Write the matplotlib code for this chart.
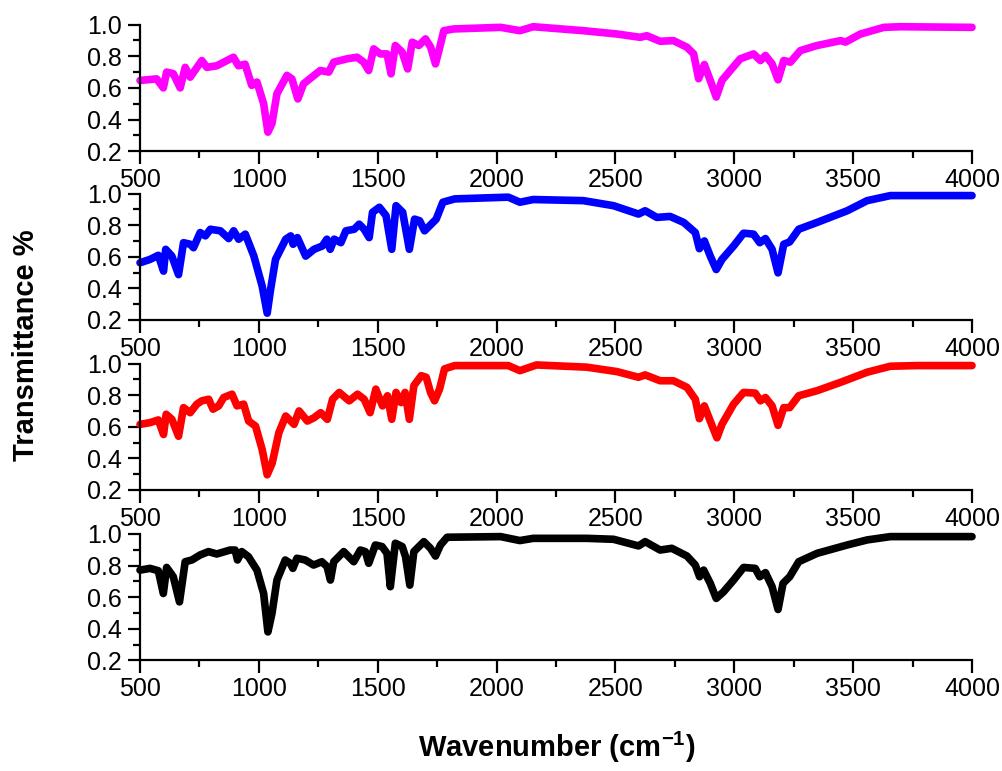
import matplotlib
matplotlib.use("Agg")
import matplotlib.pyplot as plt
from matplotlib.ticker import MultipleLocator

# Spectres FTIR (nombre d'onde en cm-1, transmittance)
wn_magenta = [500, 570, 598, 612, 640, 669, 690, 711, 760, 781, 823, 893, 914, 942, 970, 992,
              1020, 1038, 1055, 1076, 1118, 1139, 1164, 1188, 1223, 1258, 1294, 1315, 1371,
              1413, 1441, 1462, 1483, 1511, 1539, 1556, 1574, 1603, 1626, 1645, 1673, 1701,
              1723, 1743, 1761, 1778, 1820, 2017, 2098, 2154, 2365, 2506, 2604, 2632, 2688,
              2744, 2801, 2829, 2850, 2874, 2899, 2924, 2948, 2983, 3025, 3081, 3110, 3131,
              3159, 3184, 3208, 3236, 3278, 3348, 3447, 3468, 3531, 3629, 3699, 4000]
t_magenta = [0.647, 0.657, 0.60, 0.70, 0.69, 0.60, 0.73, 0.668, 0.773, 0.73, 0.74, 0.794, 0.74,
             0.75, 0.616, 0.637, 0.50, 0.32, 0.374, 0.563, 0.679, 0.657, 0.53, 0.626, 0.668,
             0.71, 0.70, 0.763, 0.784, 0.794, 0.763, 0.71, 0.847, 0.815, 0.815, 0.689, 0.868,
             0.826, 0.72, 0.889, 0.868, 0.91, 0.857, 0.752, 0.857, 0.962, 0.973, 0.983, 0.962,
             0.987, 0.962, 0.941, 0.92, 0.93, 0.895, 0.899, 0.857, 0.815, 0.658, 0.748, 0.647,
             0.542, 0.647, 0.71, 0.784, 0.815, 0.773, 0.805, 0.752, 0.651, 0.773, 0.763, 0.836,
             0.868, 0.899, 0.89, 0.941, 0.983, 0.987, 0.983]

wn_blue = [500, 542, 577, 599, 608, 634, 662, 683, 711, 725, 753, 775, 796, 838, 873, 894, 915,
           943, 979, 1014, 1035, 1049, 1070, 1113, 1134, 1144, 1162, 1197, 1232, 1267, 1286,
           1300, 1317, 1345, 1366, 1401, 1422, 1443, 1464, 1478, 1507, 1535, 1559, 1577, 1605,
           1633, 1655, 1676, 1697, 1725, 1746, 1774, 1824, 2049, 2098, 2154, 2365, 2492, 2597,
           2625, 2674, 2730, 2787, 2836, 2853, 2874, 2899, 2924, 2948, 2997, 3039, 3081, 3107,
           3131, 3159, 3184, 3208, 3233, 3271, 3348, 3475, 3559, 3657, 3770, 4000]
t_blue = [0.562, 0.583, 0.609, 0.509, 0.647, 0.604, 0.487, 0.689, 0.679, 0.657, 0.753, 0.732,
          0.774, 0.764, 0.715, 0.764, 0.711, 0.743, 0.604, 0.413, 0.243, 0.391, 0.583, 0.711,
          0.732, 0.679, 0.721, 0.604, 0.647, 0.668, 0.711, 0.647, 0.711, 0.689, 0.764, 0.774,
          0.806, 0.774, 0.721, 0.881, 0.913, 0.86, 0.647, 0.923, 0.881, 0.647, 0.838, 0.828,
          0.764, 0.806, 0.838, 0.945, 0.966, 0.977, 0.945, 0.962, 0.955, 0.923, 0.870, 0.891,
          0.849, 0.855, 0.817, 0.753, 0.651, 0.70, 0.604, 0.519, 0.583, 0.668, 0.749, 0.743,
          0.689, 0.715, 0.647, 0.498, 0.679, 0.694, 0.774, 0.817, 0.891, 0.955, 0.987, 0.987,
          0.987]

wn_red = [500, 542, 577, 599, 610, 634, 662, 683, 711, 739, 760, 789, 807, 831, 852, 887, 908,
          936, 957, 986, 1014, 1035, 1056, 1084, 1113, 1148, 1169, 1204, 1232, 1260, 1288, 1310,
          1338, 1380, 1415, 1443, 1468, 1492, 1520, 1541, 1559, 1577, 1598, 1615, 1633, 1652,
          1683, 1704, 1722, 1739, 1760, 1781, 1824, 2049, 2098, 2168, 2379, 2506, 2597, 2625,
          2688, 2744, 2801, 2836, 2853, 2874, 2899, 2927, 2948, 2997, 3039, 3088, 3110, 3131,
          3159, 3184, 3208, 3233, 3271, 3348, 3447, 3559, 3657, 3770, 4000]
t_red = [0.615, 0.626, 0.643, 0.551, 0.679, 0.647, 0.540, 0.721, 0.689, 0.743, 0.764, 0.774,
         0.711, 0.732, 0.785, 0.806, 0.732, 0.743, 0.636, 0.604, 0.455, 0.296, 0.370, 0.562,
         0.668, 0.615, 0.70, 0.636, 0.657, 0.689, 0.647, 0.774, 0.817, 0.764, 0.806, 0.774,
         0.689, 0.838, 0.732, 0.796, 0.647, 0.817, 0.753, 0.817, 0.647, 0.860, 0.923, 0.913,
         0.817, 0.764, 0.838, 0.966, 0.987, 0.987, 0.955, 0.991, 0.977, 0.949, 0.913, 0.928,
         0.891, 0.891, 0.849, 0.774, 0.651, 0.732, 0.636, 0.530, 0.615, 0.743, 0.817, 0.813,
         0.764, 0.785, 0.732, 0.609, 0.721, 0.721, 0.796, 0.828, 0.881, 0.945, 0.983, 0.987,
         0.987]

wn_black = [500, 542, 577, 598, 612, 640, 666, 690, 718, 753, 788, 823, 879, 900, 910, 928, 956,
            992, 1020, 1038, 1055, 1076, 1111, 1132, 1143, 1160, 1195, 1230, 1265, 1287, 1301,
            1315, 1357, 1399, 1427, 1448, 1462, 1490, 1518, 1539, 1553, 1574, 1603, 1617, 1635,
            1652, 1694, 1722, 1743, 1764, 1792, 2017, 2098, 2154, 2379, 2492, 2597, 2625, 2688,
            2737, 2801, 2836, 2854, 2871, 2899, 2924, 2955, 2997, 3039, 3088, 3107, 3131, 3159,
            3184, 3205, 3233, 3271, 3348, 3475, 3559, 3657, 3770, 4000]
t_black = [0.771, 0.782, 0.767, 0.623, 0.788, 0.729, 0.570, 0.824, 0.835, 0.867, 0.888, 0.873,
           0.898, 0.898, 0.835, 0.888, 0.856, 0.771, 0.623, 0.380, 0.496, 0.708, 0.835, 0.814,
           0.782, 0.846, 0.835, 0.803, 0.824, 0.793, 0.708, 0.824, 0.888, 0.824, 0.898, 0.888,
           0.814, 0.930, 0.920, 0.877, 0.666, 0.941, 0.920, 0.856, 0.676, 0.888, 0.951, 0.909,
           0.860, 0.930, 0.979, 0.983, 0.958, 0.972, 0.972, 0.966, 0.924, 0.951, 0.898, 0.909,
           0.860, 0.803, 0.729, 0.771, 0.687, 0.592, 0.634, 0.708, 0.788, 0.782, 0.729, 0.755,
           0.666, 0.522, 0.687, 0.729, 0.824, 0.877, 0.930, 0.962, 0.983, 0.983, 0.983]

spectres = [(wn_magenta, t_magenta, "#FF00FF"),
            (wn_blue, t_blue, "#0000FF"),
            (wn_red, t_red, "#FF0000"),
            (wn_black, t_black, "#000000")]

plt.rcParams['font.family'] = ['Liberation Sans', 'DejaVu Sans']

fig = plt.figure(figsize=(10.03, 7.71), dpi=100)
bottoms = [0.804, 0.585, 0.3645, 0.1435]

for (wn, t, col), b in zip(spectres, bottoms):
    ax = fig.add_axes([0.1396, b, 0.8295, 0.164])
    ax.plot(wn, t, '-', color=col, lw=5.5, solid_joinstyle='round',
            solid_capstyle='round', clip_on=False)
    ax.set_xlim(500, 4000)
    ax.set_ylim(0.2, 1.0)
    ax.xaxis.set_major_locator(MultipleLocator(500))
    ax.xaxis.set_minor_locator(MultipleLocator(250))
    ax.yaxis.set_major_locator(MultipleLocator(0.2))
    ax.yaxis.set_minor_locator(MultipleLocator(0.1))
    ax.spines['top'].set_visible(False)
    ax.spines['right'].set_visible(False)
    ax.spines['left'].set_linewidth(1.6)
    ax.spines['bottom'].set_linewidth(1.6)
    ax.tick_params(which='major', direction='out', length=9, width=1.6, labelsize=18, pad=3)
    ax.tick_params(axis='y', which='major', pad=4)
    ax.tick_params(which='minor', direction='out', length=5, width=1.6)
    ax.patch.set_alpha(0)

fig.text(0.555, 0.03, "Wavenumber (cm$^{\\mathregular{-1}}$)", ha='center', va='center',
         fontsize=21, fontweight='bold')
fig.text(0.026, 0.5525, "Transmittance %", rotation=90, ha='center', va='center',
         fontsize=21, fontweight='bold')

fig.savefig("out.png", dpi=100)
